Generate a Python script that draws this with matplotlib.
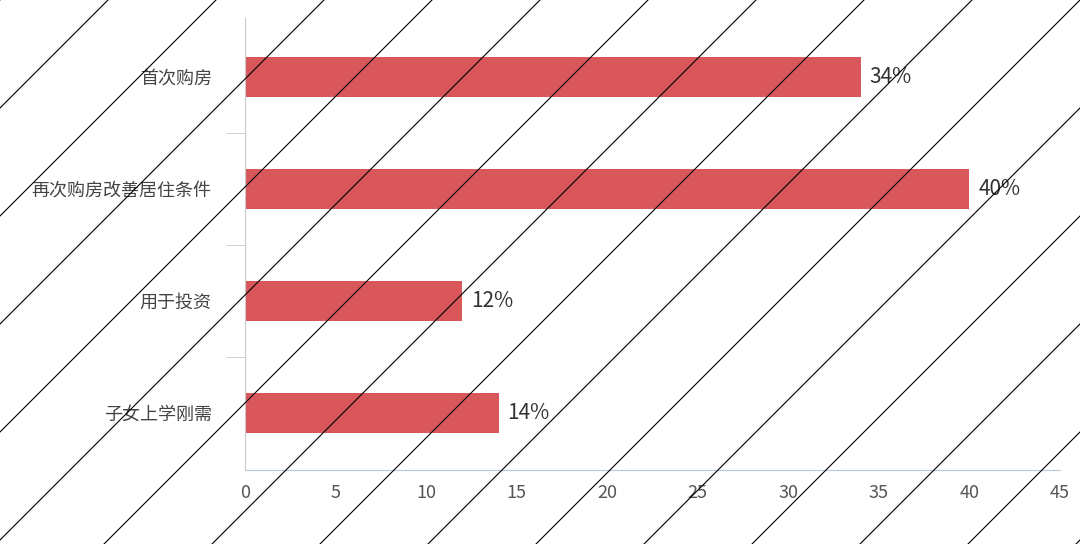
import matplotlib.pyplot as plt
import numpy as np
from matplotlib.lines import Line2D

plt.rcParams['font.family'] = ['Noto Sans CJK SC', 'DejaVu Sans']

categories = ['首次购房', '再次购房改善居住条件', '用于投资', '子女上学刚需']
values = [34, 40, 12, 14]
value_labels = ['34%', '40%', '12%', '14%']
x_ticks = [0, 5, 10, 15, 20, 25, 30, 35, 40, 45]

fig = plt.figure(figsize=(10.8, 5.44), dpi=100)
ax = fig.add_axes([245/1080, 74/544, 815/1080, 452/544])

y = np.arange(len(categories))[::-1]
ax.barh(y, values, height=0.36, color='#d9575b')
for yi, v, lab in zip(y, values, value_labels):
    ax.text(v + 0.5, yi, lab, va='center', ha='left', fontsize=15, color='#333333')

ax.set_xlim(0, 45)
ax.set_ylim(-0.51, 3.53)
ax.set_xticks(x_ticks)
ax.set_xticklabels([str(t) for t in x_ticks], fontsize=13, color='#555555')
ax.set_yticks(y)
ax.set_yticklabels(categories, fontsize=13, color='#444444')
ax.tick_params(axis='y', length=0, pad=24)
ax.tick_params(axis='x', length=0, pad=10)
ax.set_yticks([0.5, 1.5, 2.5], minor=True)
ax.tick_params(axis='y', which='minor', length=14, color='#c8c8c8', direction='out')
for s in ['top', 'right']:
    ax.spines[s].set_visible(False)
ax.spines['left'].set_color('#c8c8c8')
ax.spines['bottom'].set_color('#b8c8d8')

# watermark diagonal lines
for x0 in np.arange(-544, 1080, 108):
    fig.add_artist(Line2D([x0/1080, (x0+544)/1080], [0, 1], transform=fig.transFigure,
                          color='black', lw=0.8, zorder=10))

fig.savefig('out.png', dpi=100)
